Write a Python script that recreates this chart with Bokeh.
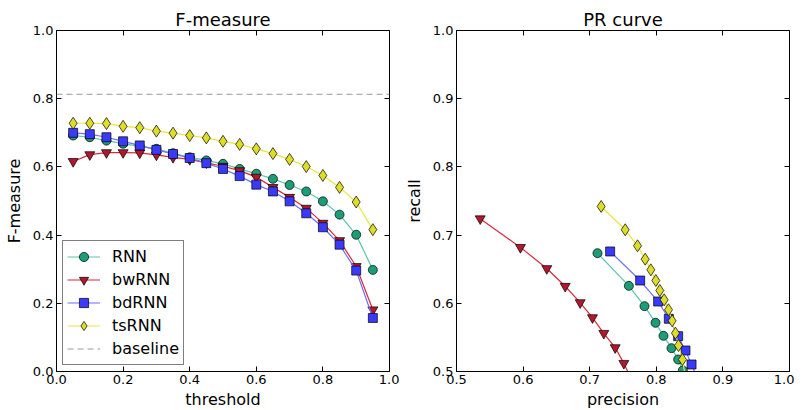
from bokeh.plotting import figure
from bokeh.layouts import row
from bokeh.models import (LinearAxis, Range1d, Span, Legend, LegendItem,
                          FixedTicker)
from bokeh.embed import file_html
from bokeh.resources import INLINE

FONT = "DejaVu Sans"

# ---------------- data ----------------
thresholds = [0.05, 0.10, 0.15, 0.20, 0.25, 0.30, 0.35, 0.40, 0.45, 0.50,
              0.55, 0.60, 0.65, 0.70, 0.75, 0.80, 0.85, 0.90, 0.95]
f_rnn = [0.692, 0.687, 0.677, 0.668, 0.660, 0.653, 0.640, 0.628, 0.619, 0.609,
         0.594, 0.580, 0.565, 0.547, 0.528, 0.499, 0.460, 0.401, 0.298]
f_bw = [0.616, 0.636, 0.642, 0.642, 0.641, 0.635, 0.628, 0.622, 0.612, 0.602,
        0.589, 0.570, 0.540, 0.511, 0.479, 0.435, 0.384, 0.308, 0.181]
f_bd = [0.700, 0.696, 0.687, 0.675, 0.663, 0.650, 0.638, 0.626, 0.611, 0.594,
        0.573, 0.548, 0.528, 0.499, 0.464, 0.423, 0.372, 0.296, 0.157]
f_ts = [0.728, 0.728, 0.727, 0.719, 0.715, 0.705, 0.699, 0.692, 0.685, 0.675,
        0.666, 0.653, 0.639, 0.622, 0.601, 0.575, 0.540, 0.497, 0.416]
baseline = 0.813

p_rnn = [0.7117, 0.7588, 0.7823, 0.7988, 0.8108, 0.8228, 0.8328, 0.8398, 0.849]
r_rnn = [0.6735, 0.6256, 0.5958, 0.5714, 0.5523, 0.5342, 0.5176, 0.5015, 0.480]
p_bw = [0.5356, 0.5960, 0.6356, 0.6632, 0.6857, 0.7042, 0.7212, 0.7383, 0.7513, 0.7665]
r_bw = [0.724, 0.682, 0.651, 0.625, 0.601, 0.579, 0.556, 0.535, 0.512, 0.480]
p_bd = [0.7307, 0.7758, 0.8028, 0.8188, 0.8328, 0.8438, 0.8529, 0.866]
r_bd = [0.676, 0.6334, 0.6026, 0.5773, 0.5518, 0.5308, 0.5103, 0.480]
p_ts = [0.7172, 0.7533, 0.7718, 0.7833, 0.7918, 0.7993, 0.8053, 0.8118,
        0.8183, 0.8238, 0.8288, 0.8333, 0.8393, 0.8457]
r_ts = [0.742, 0.7078, 0.6843, 0.6647, 0.6491, 0.6334, 0.6188, 0.6051,
        0.5905, 0.5743, 0.5562, 0.5381, 0.5176, 0.480]

names = ["RNN", "bwRNN", "bdRNN", "tsRNN"]
line_colors = ["#5cc6a6", "#d8293a", "#6f6fff", "#e6e640"]
fill_colors = ["#1b9e77", "#b2182b", "#3a3aff", "#dddd2a"]
markers = ["circle", "inverted_triangle", "square", "diamond"]
msizes = [9, 10, 9, 12]


def style(p, xlabel, ylabel, xticks, yticks):
    p.title.text_font = FONT
    p.title.text_font_size = "18px"
    p.title.text_font_style = "normal"
    p.title.text_color = "black"
    p.title.align = "center"
    p.title.standoff = 2
    p.grid.visible = False
    p.outline_line_color = "black"
    p.outline_line_width = 1
    for ax in list(p.xaxis) + list(p.yaxis):
        ax.major_tick_in = 5
        ax.major_tick_out = 0
        ax.minor_tick_line_color = None
        ax.axis_line_color = "black"
        ax.major_tick_line_color = "black"
        ax.major_label_text_font = FONT
        ax.major_label_text_font_size = "13px"
        ax.major_label_text_color = "black"
        ax.axis_label_text_font = FONT
        ax.axis_label_text_font_size = "16px"
        ax.axis_label_text_font_style = "normal"
        ax.axis_label_text_color = "black"
        ax.major_label_standoff = 3
    p.xaxis[0].ticker = FixedTicker(ticks=xticks)
    p.yaxis[0].ticker = FixedTicker(ticks=yticks)
    p.xaxis[0].major_label_overrides = {t: "%.1f" % t for t in xticks}
    p.yaxis[0].major_label_overrides = {t: "%.1f" % t for t in yticks}
    p.xaxis[0].axis_label = xlabel
    p.yaxis[0].axis_label = ylabel
    p.xaxis[0].axis_label_standoff = 3
    p.yaxis[0].axis_label_standoff = 6
    # top and right axes (ticks only)
    top = LinearAxis(ticker=FixedTicker(ticks=xticks), major_tick_in=5,
                     major_tick_out=0, minor_tick_line_color=None,
                     major_label_overrides={t: "" for t in xticks},
                     major_label_standoff=0, axis_line_color="black",
                     major_tick_line_color="black")
    right = LinearAxis(ticker=FixedTicker(ticks=yticks), major_tick_in=5,
                       major_tick_out=0, minor_tick_line_color=None,
                       major_label_overrides={t: "" for t in yticks},
                       major_label_standoff=0, axis_line_color="black",
                       major_tick_line_color="black")
    p.add_layout(top, "above")
    p.add_layout(right, "right")


# ---------------- left: F-measure ----------------
yt_left = [0.0, 0.2, 0.4, 0.6, 0.8, 1.0]
xt = [0.0, 0.2, 0.4, 0.6, 0.8, 1.0]
p1 = figure(title="F-measure", frame_width=333, frame_height=341,
            x_range=Range1d(0, 1), y_range=Range1d(0, 1),
            output_backend="svg", toolbar_location=None,
            min_border_left=56, min_border_right=10, min_border_top=30,
            min_border_bottom=8)
style(p1, "threshold", "F-measure", xt, yt_left)

p1.add_layout(Span(location=baseline, dimension="width", line_color="#999999",
                   line_dash="6 4", line_width=1))

items = []
for name, ys, lc, fc, mk, ms in zip(names, [f_rnn, f_bw, f_bd, f_ts],
                                     line_colors, fill_colors, markers, msizes):
    l = p1.line(thresholds, ys, line_color=lc, line_width=1.2)
    s = p1.scatter(thresholds, ys, marker=mk, size=ms, fill_color=fc,
                   line_color="black", line_width=0.7)
    items.append(LegendItem(label=name, renderers=[l, s]))
bl = p1.line(thresholds, [baseline] * len(thresholds), line_color="#999999",
             line_dash="6 4", line_width=1)
bl.visible = False
items.append(LegendItem(label="baseline", renderers=[bl]))

leg = Legend(items=items, location="bottom_left", margin=6, padding=4,
             spacing=0, glyph_width=33, glyph_height=23, label_standoff=12,
             label_text_font=FONT, label_text_font_size="16px",
             label_text_color="black", label_height=23,
             border_line_color="black", border_line_width=1,
             background_fill_alpha=1.0)
p1.add_layout(leg)

# ---------------- right: PR curve ----------------
t2 = [0.5, 0.6, 0.7, 0.8, 0.9, 1.0]
p2 = figure(title="PR curve", frame_width=333, frame_height=341,
            x_range=Range1d(0.5, 1), y_range=Range1d(0.5, 1),
            output_backend="svg", toolbar_location=None,
            min_border_left=57, min_border_right=5, min_border_top=30,
            min_border_bottom=8)
style(p2, "precision", "recall", t2, t2)

for px, ry, lc, fc, mk, ms in zip([p_rnn, p_bw, p_bd, p_ts],
                                  [r_rnn, r_bw, r_bd, r_ts],
                                  line_colors, fill_colors, markers, msizes):
    p2.line(px, ry, line_color=lc, line_width=1.2)
    p2.scatter(px, ry, marker=mk, size=ms, fill_color=fc,
               line_color="black", line_width=0.7)

layout = row(p1, p2)
open("out.html", "w").write(file_html(layout, INLINE))
